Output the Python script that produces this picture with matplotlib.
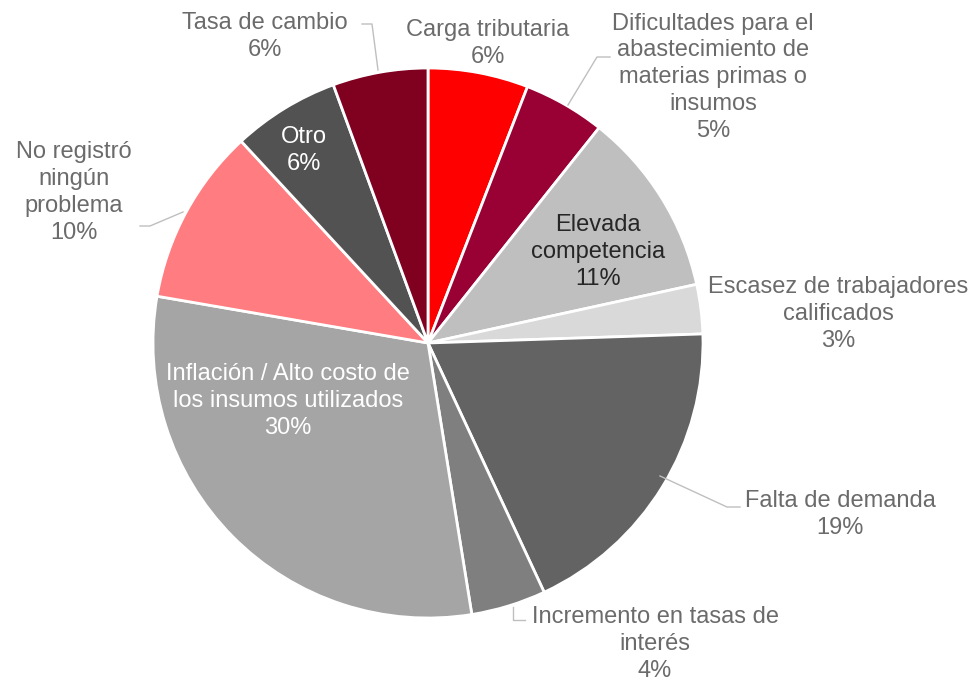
import matplotlib.pyplot as plt

plt.rcParams['font.family'] = ['Liberation Sans', 'DejaVu Sans']

categorias = ['Carga tributaria',
              'Dificultades para el\nabastecimiento de\nmaterias primas o\ninsumos',
              'Elevada\ncompetencia',
              'Escasez de trabajadores\ncalificados',
              'Falta de demanda',
              'Incremento en tasas de\ninterés',
              'Inflación / Alto costo de\nlos insumos utilizados',
              'No registró\nningún\nproblema',
              'Otro',
              'Tasa de cambio']
valores = [5.9, 4.8, 10.9, 2.9, 18.6, 4.4, 30.3, 10.4, 6.3, 5.6]
colores = ['#FF0000', '#990033', '#BFBFBF', '#D9D9D9', '#636363',
           '#7F7F7F', '#A5A5A5', '#FF7C80', '#525252', '#800020']

W, H = 971, 681
fig = plt.figure(figsize=(W / 100, H / 100), dpi=100)
ax = fig.add_axes([0, 0, 1, 1])

cx, cy, r = 428, H - 343, 275
ax.pie(valores, colors=colores, startangle=90, counterclock=False,
       center=(cx, cy), radius=r, frame=True,
       wedgeprops=dict(edgecolor='white', linewidth=2))
ax.set_xlim(0, W)
ax.set_ylim(0, H)
ax.set_aspect('auto')
ax.axis('off')

gris = '#6b6b6b'
linea = '#bfbfbf'

# posición del texto (x, y de la primera línea en píxeles) y color
etiquetas = [
    (488, 27, gris),
    (713, 20, gris),
    (598, 222, '#262626'),
    (838, 284, gris),
    (840, 498, gris),
    (655, 614, gris),
    (288, 371, 'white'),
    (74, 149, gris),
    (304, 134, 'white'),
    (265, 20, gris),
]
paso = 27.3
for nombre, v, (x, y, c) in zip(categorias, valores, etiquetas):
    texto = f'{nombre}\n{round(v)}%'
    n = texto.count('\n')
    ymid = y + n * paso / 2 + 2.5
    ax.text(x, H - ymid, texto, ha='center', va='center', fontsize=17,
            color=c, linespacing=1.28)

# líneas guía
guias = [
    [(568, 105), (597, 57), (610, 57)],
    [(660, 476), (727, 507), (740, 507)],
    [(513, 607), (513, 620), (525, 620)],
    [(183, 212), (150, 226), (140, 226)],
    [(378, 70), (372, 24), (362, 24)],
]
for g in guias:
    xs = [p[0] for p in g]
    ys = [H - p[1] for p in g]
    ax.plot(xs, ys, color=linea, lw=1)

fig.savefig('out.png', dpi=100)
